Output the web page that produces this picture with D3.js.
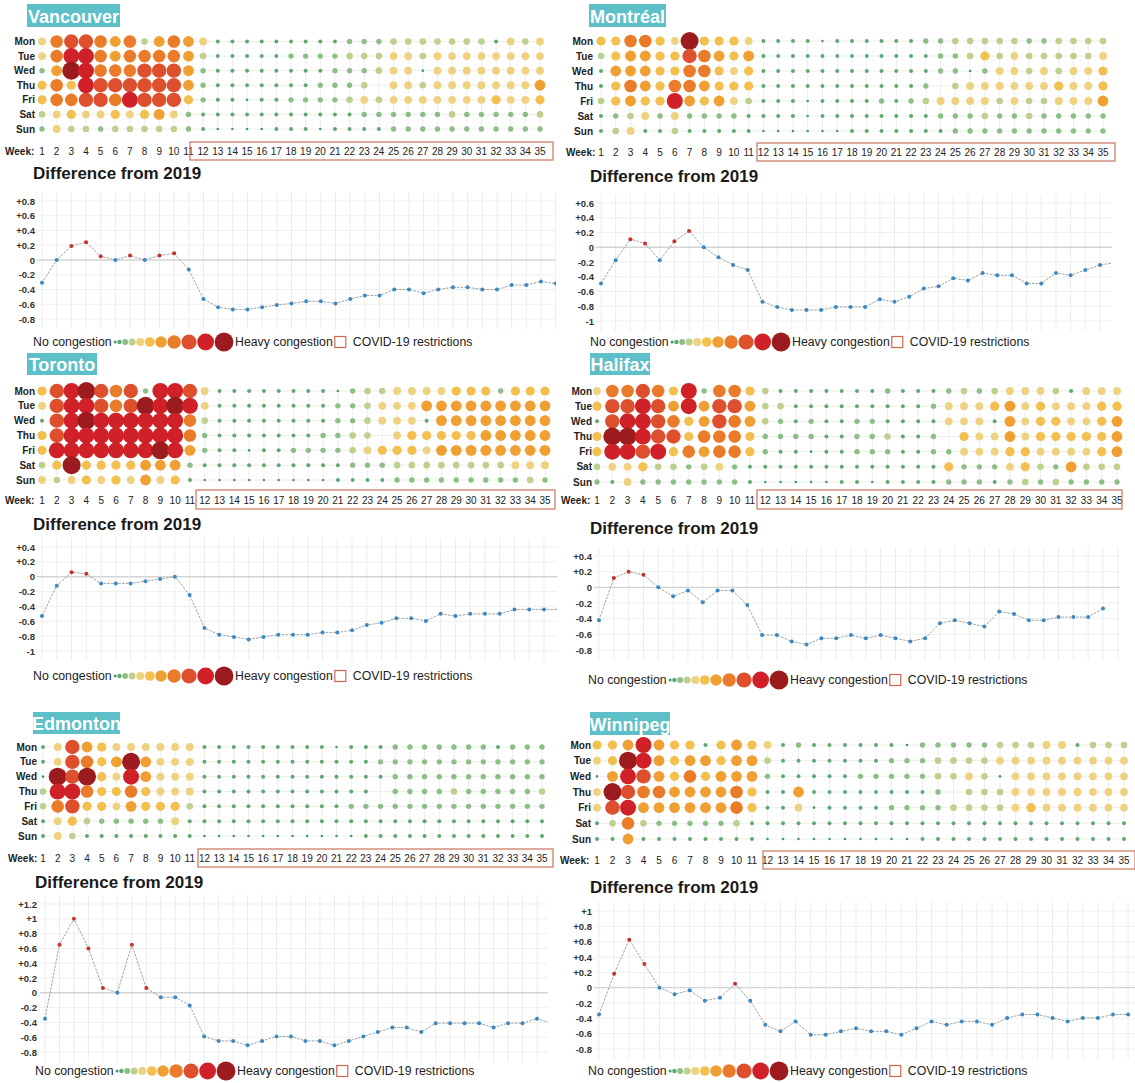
<!DOCTYPE html>
<html>
<head>
<meta charset="utf-8">
<script src="https://cdn.jsdelivr.net/npm/d3@7"></script>
<style>
  html, body { margin: 0; padding: 0; background: #fff; }
  svg { display: block; font-family: "Liberation Sans", Arial, sans-serif; }
</style>
</head>
<body>
<svg id="chart" width="1135" height="1083"></svg>
<script>
// ---------- categories ----------
const days = ["Mon", "Tue", "Wed", "Thu", "Fri", "Sat", "Sun"];
const weeks = d3.range(1, 36);           // weeks shown in the dot matrix
const lineWeeks = d3.range(1, 37);       // the difference line runs one week past the grid
const levels = d3.range(0, 11);          // 0 = no congestion ... 10 = heavy congestion
const levelColors = ["#4a9866", "#5fa971", "#8cbf85", "#bdd08e", "#efd27f", "#f3bf4f",
                     "#f0a033", "#ea7b29", "#de4f2e", "#cf2127", "#9c1b1e"];
const levelRadii = [1.3, 2.0, 2.7, 3.3, 3.9, 4.6, 5.4, 6.3, 7.2, 8.0, 9.0];

// ---------- congestion level per day (rows Mon..Sun), one character per week ----------
// digits 0-9 and "a" (=10); "-" means no data for that day
const vancouverGrid = [
  "47887673676411111111122233333331434",
  "47997677776311111222233344344444444",
  "26a97778886211111111222344044444444",
  "57598888886211111112223-44344444446",
  "57788798885211011222234344444445445",
  "34544545642111111111112222223222223",
  "24332333332100001110111122222222222"
];
const montrealGrid = [
  "557754a5554111101111112233333223333",
  "35665587656111111111111223534333334",
  "16665577545111111111111220244343445",
  "15765776555111111111112-34444445445",
  "35655965643111011112123444434334446",
  "12342422221111011111111222322322222",
  "13411311111000000111111122222222222"
];
const torontoGrid = [
  "589a8782998411111111023344445552555",
  "4899878a9a9411111111223444666666666",
  "189a9999997311111111223444166666666",
  "58999999997211111112233-45555566666",
  "59999999a96211011222234555466666666",
  "35a55556662111111111122233333333444",
  "43454546451000000000111122222222232"
];
const halifaxGrid = [
  "47787592775311111112111232344431444",
  "58898696886331111111112444564544455",
  "18998756876321211221111444164554456",
  "5aa98857775222211223112-54464555556",
  "59989576775211011222112244455444456",
  "34453323421111111111111522245326333",
  "21422222221000001101111222123232222"
];
const edmontonGrid = [
  "14865444444111111111011122222221222",
  "148756a6444111111111111222222222222",
  "0a8a5496444111111111111122222222222",
  "39975575444111111111111-22223222223",
  "37855465553111111111122222222222222",
  "14532222241111111111111111111111111",
  "14311111111000000000001111111111111"
];
const winnipegGrid = [
  "55696551565412111111022222333441333",
  "45a96566566311111112223333444444444",
  "06986575666211111222223343044444444",
  "4a877666675116111111112-33344444444",
  "48966666675114011112222333345444444",
  "13732222231111111111111111111111111",
  "11611111111000000000011111111111111"
];

// ---------- difference from 2019, weeks 1..36 ----------
const vancouverDiff = [-0.31, 0, 0.19, 0.24, 0.05, 0, 0.06, 0, 0.06, 0.09, -0.13, -0.53,
  -0.64, -0.67, -0.67, -0.64, -0.61, -0.59, -0.56, -0.56, -0.59, -0.53, -0.48, -0.48,
  -0.40, -0.40, -0.45, -0.40, -0.37, -0.37, -0.40, -0.40, -0.34, -0.34, -0.29, -0.32];
const montrealDiff = [-0.49, -0.175, 0.11, 0.05, -0.175, 0.08, 0.22, 0, -0.135, -0.24, -0.31, -0.74,
  -0.81, -0.85, -0.85, -0.85, -0.81, -0.81, -0.81, -0.705, -0.74, -0.67, -0.56, -0.53,
  -0.42, -0.45, -0.35, -0.38, -0.38, -0.49, -0.49, -0.35, -0.38, -0.31, -0.24, -0.21];
const torontoDiff = [-0.53, -0.12, 0.06, 0.04, -0.09, -0.09, -0.09, -0.06, -0.03, 0, -0.245, -0.69,
  -0.78, -0.81, -0.845, -0.81, -0.78, -0.78, -0.78, -0.75, -0.75, -0.72, -0.65, -0.62,
  -0.56, -0.56, -0.595, -0.5, -0.53, -0.5, -0.5, -0.5, -0.44, -0.44, -0.44, -0.44];
const halifaxDiff = [-0.42, 0.12, 0.2, 0.16, 0, -0.115, -0.04, -0.19, -0.04, -0.04, -0.225, -0.61,
  -0.61, -0.69, -0.73, -0.65, -0.65, -0.61, -0.65, -0.61, -0.65, -0.69, -0.65, -0.46,
  -0.42, -0.46, -0.5, -0.31, -0.34, -0.42, -0.42, -0.38, -0.38, -0.38, -0.27, null];
const edmontonDiff = [-0.35, 0.65, 1.0, 0.6, 0.065, 0, 0.65, 0.065, -0.06, -0.06, -0.17, -0.59,
  -0.65, -0.65, -0.71, -0.65, -0.59, -0.59, -0.65, -0.65, -0.71, -0.65, -0.59, -0.53,
  -0.47, -0.47, -0.53, -0.41, -0.41, -0.41, -0.41, -0.47, -0.41, -0.41, -0.35, -0.41];
const winnipegDiff = [-0.35, 0.18, 0.625, 0.31, 0, -0.085, -0.035, -0.17, -0.13, 0.05, -0.17, -0.485,
  -0.57, -0.44, -0.615, -0.615, -0.57, -0.53, -0.57, -0.57, -0.615, -0.53, -0.44, -0.485,
  -0.44, -0.44, -0.485, -0.395, -0.35, -0.35, -0.395, -0.44, -0.395, -0.395, -0.35, -0.35];

// ---------- y tick labels of each difference chart ----------
const vancouverTicks = [0.8, 0.6, 0.4, 0.2, 0, -0.2, -0.4, -0.6, -0.8];
const montrealTicks = [0.6, 0.4, 0.2, 0, -0.2, -0.4, -0.6, -0.8, -1];
const torontoTicks = [0.4, 0.2, 0, -0.2, -0.4, -0.6, -0.8, -1];
const halifaxTicks = [0.4, 0.2, 0, -0.2, -0.4, -0.6, -0.8];
const edmontonTicks = [1.2, 1, 0.8, 0.6, 0.4, 0.2, 0, -0.2, -0.4, -0.6, -0.8];
const winnipegTicks = [1, 0.8, 0.6, 0.4, 0.2, 0, -0.2, -0.4, -0.6, -0.8];

const cityNames = ["Vancouver", "Montréal", "Toronto", "Halifax", "Edmonton", "Winnipeg"];
const cityGrids = [vancouverGrid, montrealGrid, torontoGrid, halifaxGrid, edmontonGrid, winnipegGrid];
const cityDiffs = [vancouverDiff, montrealDiff, torontoDiff, halifaxDiff, edmontonDiff, winnipegDiff];
const cityTicks = [vancouverTicks, montrealTicks, torontoTicks, halifaxTicks, edmontonTicks, winnipegTicks];

// ---------- page layout of the six panels ----------
const layouts = [
  { title: [27, 4, 93, 23], dayX: 35, rows: [41.5, 129], cols: [42, 540], weekY: 151, weekX: 5,
    box: [190, 553, 142, 160], diff: [33, 173], tickX: 35, lineX: [42, 541], lineY: [201, 319],
    clip: [37, 556], legend: [33, 342] },
  { title: [589, 4, 77, 23], dayX: 593, rows: [41, 131], cols: [601, 1103], weekY: 152, weekX: 566,
    box: [757, 1115, 143, 161], diff: [590, 176], tickX: 594, lineX: [601, 1100], lineY: [203, 321],
    clip: [596, 1112], legend: [590, 342] },
  { title: [27, 353, 70, 22], dayX: 35, rows: [391, 480], cols: [42, 545], weekY: 500, weekX: 5,
    box: [196, 555, 490, 509], diff: [33, 524], tickX: 35, lineX: [42, 544], lineY: [547, 651],
    clip: [37, 557], legend: [33, 676] },
  { title: [590, 353, 60, 22], dayX: 592, rows: [391, 482], cols: [597, 1117], weekY: 500, weekX: 561,
    box: [757, 1122, 490, 509], diff: [590, 528], tickX: 592, lineX: [599, 1103], lineY: [556, 650],
    clip: [594, 1120], legend: [588, 680] },
  { title: [33, 712, 87, 22], dayX: 37, rows: [747, 836], cols: [43, 542], weekY: 858, weekX: 8,
    box: [198, 553, 849, 867], diff: [35, 882], tickX: 37, lineX: [45, 537], lineY: [904, 1052],
    clip: [40, 548], legend: [35, 1071] },
  { title: [590, 712, 80, 23], dayX: 591, rows: [745, 839], cols: [597, 1124], weekY: 860, weekX: 560,
    box: [763, 1135, 851, 869], diff: [590, 887], tickX: 592, lineX: [599, 1113], lineY: [911, 1049],
    clip: [594, 1135], legend: [588, 1071] }
];

const svg = d3.select("#chart");
const color = d3.scaleOrdinal().domain(levels).range(levelColors);
const radius = d3.scaleOrdinal().domain(levels).range(levelRadii);
const fmtTick = d => d === 0 ? "0" : (d > 0 ? "+" : "-") + (Math.round(Math.abs(d) * 10) / 10);
const legendFont = 12.3;

function gridCells(rows) {
  const cells = [];
  rows.forEach((row, i) => {
    row.split("").forEach((c, j) => {
      if (c !== "-") cells.push({ day: days[i], week: weeks[j], level: parseInt(c, 11) });
    });
  });
  return cells;
}

function drawPanel(i) {
  const L = layouts[i];
  const g = svg.append("g").attr("class", "panel");

  // city title tag
  g.append("rect").attr("x", L.title[0]).attr("y", L.title[1])
    .attr("width", L.title[2]).attr("height", L.title[3]).attr("fill", "#5dbfc8");
  g.append("text").attr("x", L.title[0] + L.title[2] / 2).attr("y", L.title[1] + L.title[3] / 2 + 1)
    .attr("text-anchor", "middle").attr("dominant-baseline", "central")
    .attr("fill", "#fff").attr("font-weight", "bold").attr("font-size", 18).text(cityNames[i]);

  // dot matrix
  const x = d3.scalePoint().domain(weeks).range(L.cols);
  const y = d3.scalePoint().domain(days).range(L.rows);

  const grid = g.append("g").attr("stroke", "#eeeeee").attr("stroke-width", 1);
  grid.selectAll("line.h").data(days).join("line").attr("class", "h")
    .attr("x1", L.cols[0]).attr("x2", L.cols[1]).attr("y1", d => y(d)).attr("y2", d => y(d));
  grid.selectAll("line.v").data(weeks).join("line").attr("class", "v")
    .attr("x1", d => x(d)).attr("x2", d => x(d)).attr("y1", L.rows[0]).attr("y2", L.rows[1]);

  g.append("g").selectAll("text").data(days).join("text")
    .attr("x", L.dayX).attr("y", d => y(d)).attr("text-anchor", "end")
    .attr("dominant-baseline", "central").attr("font-size", 10).attr("font-weight", "bold")
    .attr("fill", "#222").text(d => d);

  g.append("g").selectAll("circle").data(gridCells(cityGrids[i])).join("circle")
    .attr("cx", d => x(d.week)).attr("cy", d => y(d.day))
    .attr("r", d => radius(d.level)).attr("fill", d => color(d.level));

  // week labels
  g.append("text").attr("x", L.weekX).attr("y", L.weekY).attr("dominant-baseline", "central")
    .attr("font-size", 10).attr("font-weight", "bold").attr("fill", "#222").text("Week:");
  g.append("g").selectAll("text").data(weeks).join("text")
    .attr("x", d => x(d)).attr("y", L.weekY).attr("text-anchor", "middle")
    .attr("dominant-baseline", "central").attr("font-size", 10).attr("fill", "#222").text(d => d);

  // COVID-19 restriction frame around the restricted weeks
  g.append("rect").attr("x", L.box[0]).attr("y", L.box[2])
    .attr("width", L.box[1] - L.box[0]).attr("height", L.box[3] - L.box[2])
    .attr("fill", "none").attr("stroke", "#c9735d").attr("stroke-width", 1.2);

  // difference chart
  g.append("text").attr("x", L.diff[0]).attr("y", L.diff[1]).attr("dominant-baseline", "central")
    .attr("font-size", 17).attr("font-weight", "bold").attr("fill", "#1a1a1a").text("Difference from 2019");

  const ticks = cityTicks[i];
  const ly = d3.scaleLinear().domain([ticks[0], ticks[ticks.length - 1]]).range(L.lineY);
  const lx = d3.scaleLinear().domain([1, 35]).range(L.lineX);
  const top = L.lineY[0] - 9, bottom = L.lineY[1] + 10;

  const clipId = "clip" + i;
  g.append("clipPath").attr("id", clipId).append("rect")
    .attr("x", L.clip[0]).attr("y", top - 5).attr("width", L.clip[1] - L.clip[0]).attr("height", bottom - top + 10);

  const plot = g.append("g").attr("clip-path", `url(#${clipId})`);
  plot.append("g").selectAll("line").data(lineWeeks).join("line")
    .attr("x1", d => lx(d)).attr("x2", d => lx(d)).attr("y1", top).attr("y2", bottom)
    .attr("stroke", "#ececec");
  plot.append("g").selectAll("line").data(ticks).join("line")
    .attr("x1", L.clip[0]).attr("x2", L.clip[1]).attr("y1", d => ly(d)).attr("y2", d => ly(d))
    .attr("stroke", d => d === 0 ? "#d4d4d4" : "#efefef").attr("stroke-width", d => d === 0 ? 1.4 : 1);

  const diff = cityDiffs[i];
  const pts = lineWeeks.map((w, k) => ({ week: w, value: diff[k] }));
  plot.append("path").datum(pts)
    .attr("d", d3.line().defined(d => d.value != null).x(d => lx(d.week)).y(d => ly(d.value)))
    .attr("fill", "none").attr("stroke", "#a0a0a0").attr("stroke-width", 1)
    .attr("stroke-dasharray", "2.5,1.2");
  plot.append("g").selectAll("circle").data(pts.filter(d => d.value != null)).join("circle")
    .attr("cx", d => lx(d.week)).attr("cy", d => ly(d.value)).attr("r", 2)
    .attr("fill", d => d.value > 0 ? "#c8302c" : "#3b88c3");

  const axis = d3.axisLeft(ly).tickValues(ticks).tickSize(0).tickPadding(0).tickFormat(fmtTick);
  const ax = g.append("g").attr("transform", `translate(${L.tickX},0)`).call(axis);
  ax.select(".domain").remove();
  ax.selectAll("text").attr("font-size", 9.5).attr("font-weight", "bold").attr("fill", "#333")
    .attr("font-family", "'Liberation Sans', Arial, sans-serif");

  // legend
  const lg = g.append("g");
  const ly0 = L.legend[1];
  let cx = L.legend[0];
  const t1 = lg.append("text").attr("x", cx).attr("y", ly0).attr("dominant-baseline", "central")
    .attr("font-size", legendFont).attr("fill", "#222").text("No congestion");
  cx += t1.node().getComputedTextLength() + 2;
  levels.forEach(lv => {
    const r = radius(lv) + (lv > 5 ? 0.4 : 0.2);
    cx += r;
    lg.append("circle").attr("cx", cx).attr("cy", ly0).attr("r", r).attr("fill", color(lv));
    cx += r + 0.6;
  });
  const t2 = lg.append("text").attr("x", cx + 1).attr("y", ly0).attr("dominant-baseline", "central")
    .attr("font-size", legendFont).attr("fill", "#222").text("Heavy congestion");
  cx += t2.node().getComputedTextLength() + 3;
  lg.append("rect").attr("x", cx).attr("y", ly0 - 5.5).attr("width", 11).attr("height", 11)
    .attr("fill", "none").attr("stroke", "#d0664d").attr("stroke-width", 1.2);
  cx += 18;
  lg.append("text").attr("x", cx).attr("y", ly0).attr("dominant-baseline", "central")
    .attr("font-size", legendFont).attr("fill", "#222").text("COVID-19 restrictions");
}

cityNames.forEach((_, i) => drawPanel(i));
</script>
</body>
</html>
